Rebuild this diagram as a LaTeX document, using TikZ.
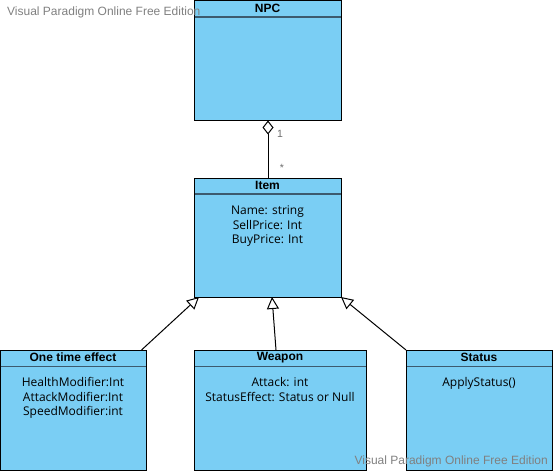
\documentclass[tikz,border=0pt]{standalone}
\usepackage{fontspec}
\setmainfont{Open Sans}
\newfontfamily\titlefont{Liberation Sans}
\usetikzlibrary{arrows.meta,calc}
\definecolor{boxfill}{RGB}{122,206,244}
\definecolor{headline}{RGB}{60,90,110}
\definecolor{wmgray}{RGB}{128,128,128}
\tikzset{
  umlbox/.style={draw=black, fill=boxfill, line width=1pt, anchor=north west, inner sep=0pt, outer sep=0pt},
  hdr/.style={draw=headline, line width=1.6pt},
  ttl/.style={font=\titlefont\bfseries\fontsize{12}{13}\selectfont, anchor=center, inner sep=0pt},
  attr/.style={font=\fontsize{12}{14.5}\selectfont, align=center, anchor=north, inner sep=0pt},
  conn/.style={draw=black, line width=1pt},
  gen/.style={conn, -{Triangle[open, length=12pt, width=12pt, fill=white, line width=1pt]}},
  agg/.style={conn, {Diamond[open, length=14pt, width=11pt, fill=white, line width=1pt]}-},
  mult/.style={font=\titlefont\fontsize{10.5}{12}\selectfont, text=wmgray!85!black, inner sep=0pt},
  wm/.style={font=\titlefont\fontsize{12}{14}\selectfont, text=wmgray, inner sep=0pt}
}
\begin{document}
\begin{tikzpicture}[x=1pt,y=-1pt]
\useasboundingbox (0,0) rectangle (553,471);
% NPC
\node[umlbox, minimum width=147pt, minimum height=120pt] (npc) at (194,0.5) {};
\draw[hdr] (194.5,17) -- (340.5,17);
\node[ttl] (npct) at (267.5,8.5) {NPC};
% Item
\node[umlbox, minimum width=147pt, minimum height=119pt] (item) at (194,178) {};
\draw[hdr] (194.5,194) -- (340.5,194);
\node[ttl] (itemt) at (267.5,185) {Item};
\node[attr] (itema) at (267.5,205.5) {Name: string\\SellPrice: Int\\BuyPrice: Int};
% One time effect
\node[umlbox, minimum width=146pt, minimum height=120pt] (ote) at (0.5,350) {};
\draw[hdr] (0.5,366.5) -- (146,366.5);
\node[ttl] (otet) at (73,357.5) {One time effect};
\node[attr] (otea) at (73,377.5) {HealthModifier:Int\\AttackModifier:Int\\SpeedModifier:int};
% Weapon
\node[umlbox, minimum width=172pt, minimum height=120pt] (wpn) at (194,350) {};
\draw[hdr] (194.5,366.5) -- (365.5,366.5);
\node[ttl] (wpnt) at (280,357.5) {Weapon};
\node[attr] (wpna) at (280,377.5) {Attack: int\\StatusEffect: Status or Null};
% Status
\node[umlbox, minimum width=146pt, minimum height=120pt] (sts) at (406,350) {};
\draw[hdr] (406.5,366.5) -- (551.5,366.5);
\node[ttl] (stst) at (479,357.5) {Status};
\node[attr] (stsa) at (479,377.5) {ApplyStatus()};
% connectors
\coordinate (aggS) at ($(npc.south west)+(74,0)$);
\coordinate (aggE) at ($(item.north west)+(74,0)$);
\draw[agg] (aggS) -- (aggE);
\node[mult] (m1) at (280,134) {1};
\node[mult] (m2) at (282,168) {*};
\draw[gen] ($(ote.north east)+(-5,0)$) -- ($(item.south west)+(5,0)$);
\draw[gen] ($(wpn.north west)+(82,0)$) -- ($(item.south west)+(78,0)$);
\draw[gen] (sts.north west) -- ($(item.south east)+(0,0)$);
% watermarks
\node[wm, anchor=west] (wm1) at (7,12) {Visual Paradigm Online Free Edition};
\node[wm, anchor=east] (wm2) at (548,461) {Visual Paradigm Online Free Edition};
\end{tikzpicture}
\end{document}
